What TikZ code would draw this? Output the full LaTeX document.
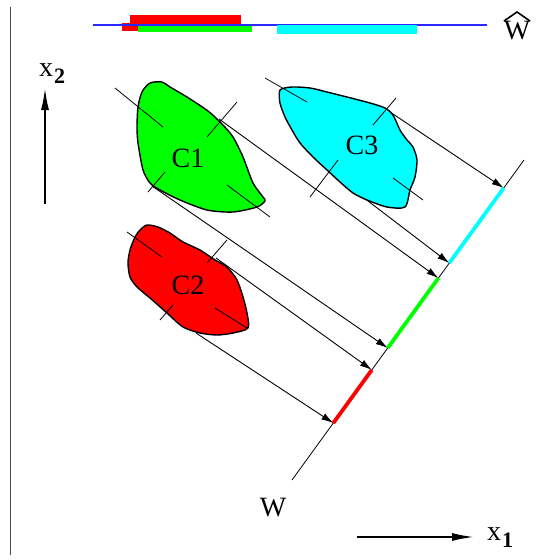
\documentclass[tikz,border=0pt]{standalone}
\usepackage{fontspec}
\setmainfont{Liberation Serif}
\usetikzlibrary{arrows.meta,calc}

\definecolor{cgreen}{RGB}{0,255,0}
\definecolor{cred}{RGB}{255,0,0}
\definecolor{ccyan}{RGB}{0,255,255}
\definecolor{cblue}{RGB}{40,40,255}

\newcommand{\axname}[1]{x\kern1pt\raisebox{-7pt}{\fontsize{22}{22}\selectfont\bfseries #1}}

\tikzset{
  proj/.style={black, line width=0.9pt, -{Latex[length=12pt,width=7pt]}},
  axis/.style={black, line width=1.8pt, -{Latex[length=22pt,width=8pt]}},
  edgeline/.style={black, line width=0.8pt},
  blob/.style={draw=black, line width=1.4pt, line join=round},
  lbl/.style={font=\fontsize{28}{28}\selectfont, inner sep=0pt},
  wseg/.style={line width=3.8pt},
}

\begin{document}
\begin{tikzpicture}[x=1pt,y=-1pt]
    \useasboundingbox (0,0) rectangle (539,560);

    % linker Rand
    \draw[gray!60!black, line width=0.8pt] (10,7) -- (10,555);

    % Achsen
    \coordinate (x2a) at (45,204);
    \coordinate (x2b) at (45,88);
    \draw[axis] (x2a) -- (x2b);
    \node[lbl] (x2) at (52,74) {\axname{2}};
    \coordinate (x1a) at (357,537);
    \coordinate (x1b) at (474,537);
    \draw[axis] (x1a) -- (x1b);
    \node[lbl] (x1) at (500,538) {\axname{1}};

    % Gerade W
    \coordinate (w0) at (292,480);
    \coordinate (w9) at (524,160);
    \draw[edgeline] (w0) -- (w9);
    \node[lbl] (w) at (273,508) {W};

    \coordinate (rb) at ($(w0)!0.178!(w9)$);
    \coordinate (rt) at ($(w0)!0.344!(w9)$);
    \coordinate (gb) at ($(w0)!0.4125!(w9)$);
    \coordinate (gt) at ($(w0)!0.631!(w9)$);
    \coordinate (cb) at ($(w0)!0.678!(w9)$);
    \coordinate (ct) at ($(w0)!0.9125!(w9)$);

    % Projektionen
    \coordinate (s1) at (387,110);
    \coordinate (s2) at (330,172);
    \coordinate (s3) at (219,119);
    \coordinate (s4) at (152,186);
    \coordinate (s5) at (216,258);
    \coordinate (s6) at (196,333);
    \draw[proj] (s1) -- (ct);
    \draw[proj] (s2) -- (cb);
    \draw[proj] (s3) -- (gt);
    \draw[proj] (s4) -- (gb);
    \draw[proj] (s5) -- (rt);
    \draw[proj] (s6) -- (rb);

    % Klassen
    \draw[blob, fill=cgreen] plot[smooth cycle, tension=0.45] coordinates {
      (150,83) (162,82) (170,87) (187,97) (208,111) (222,124) (233,137)
      (243,157) (253,183) (263,197) (265,201) (257,207) (233,212) (207,210)
      (180,200) (160,190) (150,183) (143,170) (138,143) (137,127) (138,107) (142,92)};
    \draw[blob, fill=ccyan] plot[smooth cycle, tension=0.45] coordinates {
      (280,90) (292,87) (310,88) (327,92) (347,97) (370,103) (385,108)
      (393,115) (400,130) (407,140) (413,147) (417,160) (415,177) (410,190)
      (405,207) (387,207) (367,200) (353,193) (340,182) (327,170) (313,157)
      (300,143) (292,130) (285,117) (280,103)};
    \draw[blob, fill=cred] plot[smooth cycle, tension=0.45] coordinates {
      (147,225) (158,227) (170,233) (183,242) (200,250) (215,260) (227,267)
      (237,280) (243,297) (247,313) (248,328) (233,333) (217,335) (200,333)
      (183,327) (167,313) (150,298) (137,287) (130,277) (128,263) (130,250)
      (135,237) (140,230)};

    \node[lbl] (c1) at (188,158) {C1};
    \node[lbl] (c2) at (188,285) {C2};
    \node[lbl] (c3) at (362,145) {C3};

    % Randstriche an den Klassen
    \draw[edgeline] (265,78) -- (307,102);
    \draw[edgeline] (393,178) -- (423,200);
    \draw[edgeline] (115,88) -- (163,127);
    \draw[edgeline] (227,185) -- (270,217);
    \draw[edgeline] (127,232) -- (162,257);
    \draw[edgeline] (215,308) -- (247,328);
    \draw[edgeline] (207,137) -- (237,102);
    \draw[edgeline] (148,192) -- (165,172);
    \draw[edgeline] (373,125) -- (396,98);
    \draw[edgeline] (310,197) -- (338,160);
    \draw[edgeline] (207,263) -- (227,240);
    \draw[edgeline] (160,320) -- (173,305);

    % Abschnitte auf W
    \draw[wseg, cred] (rb) -- (rt);
    \draw[wseg, cgreen] (gb) -- (gt);
    \draw[wseg, ccyan] (cb) -- (ct);

    % Projektion auf W-Dach
    \fill[cred] (130,15) rectangle (241,25);
    \fill[cred] (122,23) rectangle (138,31);
    \fill[cgreen] (138,26) rectangle (252,32);
    \draw[cblue, line width=1.1pt] (93,25) -- (487,25);
    \fill[ccyan] (277,25) rectangle (417,34);
    \node[lbl] (wh) at (517,31) {W};
    \draw[line width=1.6pt] (504,21) -- (517,12) -- (530,21);
\end{tikzpicture}
\end{document}
